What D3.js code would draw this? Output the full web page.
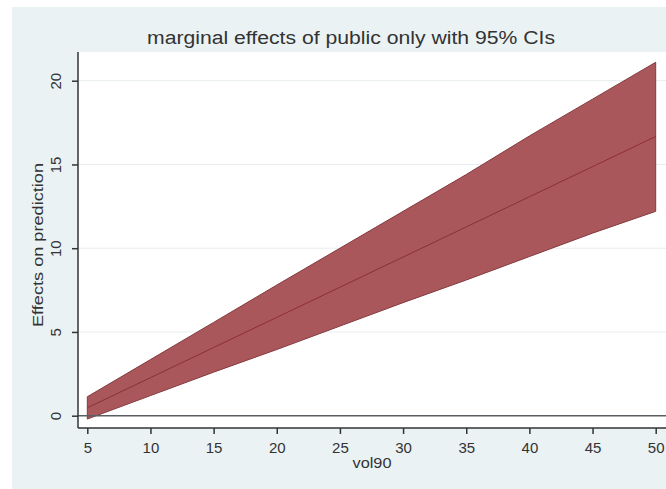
<!DOCTYPE html>
<html><head><meta charset="utf-8">
<script src="https://cdn.jsdelivr.net/npm/d3@7"></script>
<style>body{margin:0;background:#fff}svg{display:block}text{font-family:"Liberation Sans",Arial,sans-serif;fill:#333}</style>
</head><body>
<svg id="c" width="666" height="489"></svg>
<script>
const xVals = [5, 10, 15, 20, 25, 30, 35, 40, 45, 50];
const effect = [0.47, 2.27, 4.07, 5.87, 7.67, 9.47, 11.27, 13.07, 14.87, 16.67];
const upper  = [1.13, 3.35, 5.57, 7.80, 10.0, 12.2, 14.4, 16.7, 18.9, 21.1];
const lower  = [-0.2, 1.20, 2.60, 3.95, 5.35, 6.75, 8.10, 9.50, 10.9, 12.2];
const xTicks = [5, 10, 15, 20, 25, 30, 35, 40, 45, 50];
const yTicks = [0, 5, 10, 15, 20];
const title = "marginal effects of public only with 95% CIs";
const xTitle = "vol90";
const yTitle = "Effects on prediction";

const data = xVals.map((x, i) => ({x, m: effect[i], lo: lower[i], hi: upper[i]}));
const svg = d3.select("#c");
const L = 78, R = 666, T = 52, B = 428;

svg.append("rect").attr("x", 12).attr("y", 7).attr("width", 654).attr("height", 482).attr("fill", "#eaf2f3");
svg.append("rect").attr("x", L).attr("y", T).attr("width", R - L).attr("height", B - T).attr("fill", "#fff");

const x = d3.scaleLinear().domain([5, 50]).range([87.3, 655.7]);
const y = d3.scaleLinear().domain([0, 20]).range([415.7, 80.7]);

// gridlines
svg.append("g").selectAll("line").data(yTicks.filter(d => d !== 0)).join("line")
  .attr("x1", L).attr("x2", R).attr("y1", d => y(d)).attr("y2", d => y(d))
  .attr("stroke", "#e8ecee").attr("stroke-width", 1);

// CI band
svg.append("path").datum(data)
  .attr("d", d3.area().x(d => x(d.x)).y0(d => y(d.lo)).y1(d => y(d.hi)))
  .attr("fill", "#a9575b").attr("stroke", "#843a3e").attr("stroke-width", 1);

// effect line
svg.append("path").datum(data)
  .attr("d", d3.line().x(d => x(d.x)).y(d => y(d.m)))
  .attr("fill", "none").attr("stroke", "#8e2f34").attr("stroke-width", 1);

// zero line
svg.append("line").attr("x1", L).attr("x2", R).attr("y1", y(0)).attr("y2", y(0))
  .attr("stroke", "#5a5f63").attr("stroke-width", 1.5);

// axes
const xAxis = svg.append("g").attr("transform", `translate(0,${B})`)
  .call(d3.axisBottom(x).tickValues(xTicks).tickSize(6).tickPadding(8).tickFormat(d3.format("d")));
xAxis.select(".domain").attr("d", `M${L},0H${R}`).attr("stroke", "#333").attr("stroke-width", 1.5);
xAxis.selectAll(".tick line").attr("stroke", "#333").attr("stroke-width", 1.5);
xAxis.selectAll(".tick text").attr("font-size", 15).attr("fill", "#333").attr("font-family", "Liberation Sans, Arial, sans-serif");

const yAxis = svg.append("g").attr("transform", `translate(${L},0)`)
  .call(d3.axisLeft(y).tickValues(yTicks).tickSize(6).tickPadding(4).tickFormat(d3.format("d")));
yAxis.select(".domain").attr("d", `M0,${T}V${B}`).attr("stroke", "#333").attr("stroke-width", 1.5);
yAxis.selectAll(".tick line").attr("stroke", "#333").attr("stroke-width", 1.5);
yAxis.selectAll(".tick text").attr("font-size", 15).attr("fill", "#333").attr("font-family", "Liberation Sans, Arial, sans-serif")
  .attr("x", 0).attr("dy", 0).attr("text-anchor", "middle")
  .attr("transform", "translate(-23,0) rotate(-90)")
  .attr("dominant-baseline", "central");

// titles
svg.append("text").attr("x", 351).attr("y", 44).attr("text-anchor", "middle")
  .attr("font-size", 18).attr("textLength", 408).attr("lengthAdjust", "spacingAndGlyphs").text(title);
svg.append("text").attr("x", 372).attr("y", 468).attr("text-anchor", "middle")
  .attr("font-size", 15).attr("textLength", 39).attr("lengthAdjust", "spacingAndGlyphs").text(xTitle);
svg.append("text").attr("transform", "translate(43,245) rotate(-90)").attr("text-anchor", "middle")
  .attr("font-size", 15).attr("textLength", 164).attr("lengthAdjust", "spacingAndGlyphs").text(yTitle);
</script>
</body></html>
